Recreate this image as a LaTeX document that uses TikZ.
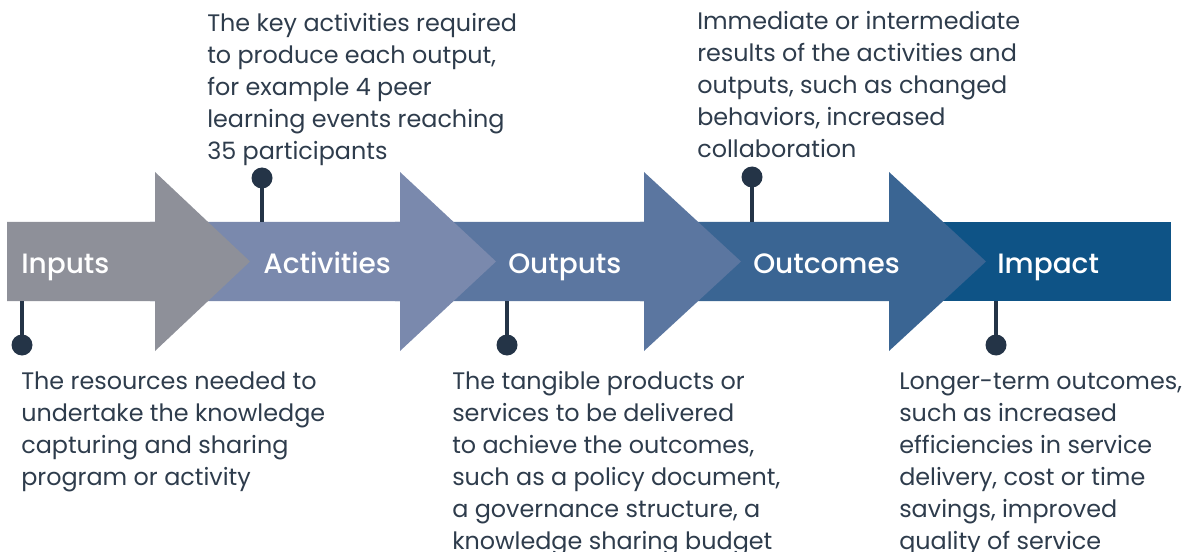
\documentclass[tikz,border=0pt]{standalone}
\usepackage{fontspec}
\setmainfont{Poppins}
\newfontfamily\labelfont{Poppins}[UprightFont=* Medium]
\definecolor{cInputs}{RGB}{142,144,153}
\definecolor{cActiv}{RGB}{122,137,173}
\definecolor{cOutputs}{RGB}{91,118,160}
\definecolor{cOutcomes}{RGB}{58,101,147}
\definecolor{cImpact}{RGB}{14,83,134}
\definecolor{pinc}{RGB}{36,52,71}
\definecolor{txt}{RGB}{46,60,76}
\begin{document}
\begin{tikzpicture}[x=0.75pt,y=-0.75pt,
  stagelabel/.style={anchor=base west,inner sep=0pt,text=white,font=\labelfont\fontsize{21}{24}\selectfont},
  desc/.style={anchor=base west,inner sep=0pt,align=left,text=txt,font=\fontsize{17.9}{24}\selectfont},
  pindot/.style={circle,fill=pinc,minimum size=21pt*0.75,inner sep=0pt},
  pinline/.style={draw=pinc,line width=4.5pt*0.75}]
\useasboundingbox (0,0) rectangle (1194,552);
% arrows, drawn right to left
\fill[cImpact] (880,222) rectangle (1171,301);
\fill[cOutcomes] (640,222) -- (889,222) -- (889,172) -- (986,261.5) -- (889,351) -- (889,301) -- (640,301) -- cycle;
\fill[cOutputs] (395,222) -- (644,222) -- (644,172) -- (741,261.5) -- (644,351) -- (644,301) -- (395,301) -- cycle;
\fill[cActiv] (150,222) -- (400,222) -- (400,172) -- (496,261.5) -- (400,351) -- (400,301) -- (150,301) -- cycle;
\fill[cInputs] (7,222) -- (155,222) -- (155,172) -- (250,261.5) -- (155,351) -- (155,301) -- (7,301) -- cycle;
% stage labels
\node[stagelabel] (inputs) at (21,273) {Inputs};
\node[stagelabel] (activities) at (263,273) {Activities};
\node[stagelabel] (outputs) at (508,273) {Outputs};
\node[stagelabel] (outcomes) at (753,273) {Outcomes};
\node[stagelabel] (impact) at (997,273) {Impact};
% pins
\coordinate (e1) at (22,301);
\coordinate (e2) at (262,222);
\coordinate (e3) at (507,301);
\coordinate (e4) at (752,222);
\coordinate (e5) at (996,301);
\node[pindot] (d1) at (22,345) {};
\node[pindot] (d2) at (262,178) {};
\node[pindot] (d3) at (507,345) {};
\node[pindot] (d4) at (752,177) {};
\node[pindot] (d5) at (996,345) {};
\draw[pinline] (e1) -- (d1.center);
\draw[pinline] (e2) -- (d2.center);
\draw[pinline] (e3) -- (d3.center);
\draw[pinline] (e4) -- (d4.center);
\draw[pinline] (e5) -- (d5.center);
% descriptions (anchored at the baseline of their last line)
\node[desc] (t1) at (21,485) {The resources needed to\\undertake the knowledge\\capturing and sharing\\program or activity};
\node[desc] (t2) at (207,160) {The key activities required\\to produce each output,\\for example 4 peer\\learning events reaching\\35 participants};
\node[desc] (t3) at (452,549) {The tangible products or\\services to be delivered\\to achieve the outcomes,\\such as a policy document,\\a governance structure, a\\knowledge sharing budget};
\node[desc] (t4) at (697,158) {Immediate or intermediate\\results of the activities and\\outputs, such as changed\\behaviors, increased\\collaboration};
\node[desc] (t5) at (899,549) {Longer-term outcomes,\\such as increased\\efficiencies in service\\delivery, cost or time\\savings, improved\\quality of service};
\end{tikzpicture}
\end{document}
